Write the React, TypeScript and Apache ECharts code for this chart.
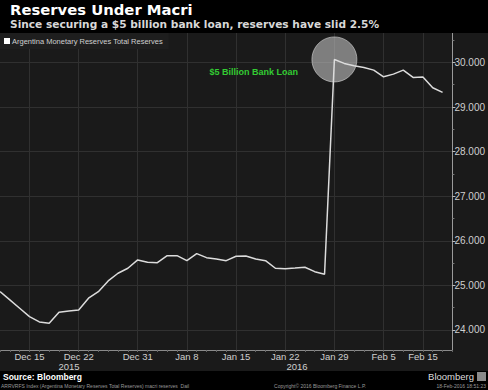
import React, { useEffect, useRef } from "react";
import * as echarts from "echarts";

const categories = [
  "Dec 10", "Dec 11", "Dec 14", "Dec 15", "Dec 16", "Dec 17", "Dec 18", "Dec 21", "Dec 22", "Dec 23", "Dec 24", "Dec 28", "Dec 29", "Dec 30", "Dec 31",
  "Jan 4", "Jan 5", "Jan 6", "Jan 7", "Jan 8", "Jan 11", "Jan 12", "Jan 13", "Jan 14", "Jan 15", "Jan 18", "Jan 19", "Jan 20", "Jan 21", "Jan 22", "Jan 25", "Jan 26", "Jan 27", "Jan 28", "Jan 29",
  "Feb 1", "Feb 2", "Feb 3", "Feb 4", "Feb 5", "Feb 10", "Feb 11", "Feb 12", "Feb 15", "Feb 16", "Feb 17", "Feb 18",
];

const reserves = [
  24859, 24673, 24487, 24299, 24180, 24151, 24397, 24427, 24449, 24711, 24859, 25099, 25271, 25384, 25570,
  25518, 25509, 25666, 25666, 25554, 25711, 25621, 25592, 25554, 25652, 25659, 25592, 25554, 25384, 25375, 25390, 25406, 25307, 25249, 30067,
  29978, 29924, 29888, 29827, 29677, 29738, 29827, 29664, 29671, 29431, 29328,
];

const labelDates = ["Dec 15", "Dec 22", "Dec 31", "Jan 8", "Jan 15", "Jan 22", "Jan 29", "Feb 5", "Feb 15"];
const yearLabels = ["2015", "2016"];
const majorTicks = [24000, 25000, 26000, 27000, 28000, 29000, 30000];
const minorTicks = [24500, 25500, 26500, 27500, 28500, 29500, 30500];
const highlightDate = "Jan 29";
const seriesName = "Argentina Monetary Reserves Total Reserves";

export default function App() {
  const ref = useRef<HTMLDivElement>(null);
  useEffect(() => {
    if (!ref.current) return;
    const chart = echarts.init(ref.current, null, { renderer: "svg" });
    const hi = categories.indexOf(highlightDate);
    const showLabel = (idx: number, val: string) => labelDates.includes(val);
    const font = "Liberation Sans";
    const headFont = "DejaVu Sans";
    chart.setOption({
      animation: false,
      backgroundColor: "#1a1a1a",
      grid: { left: 0, right: 33, top: 33, bottom: 40, containLabel: false },
      legend: {
        data: [{ name: seriesName, icon: "rect" }],
        left: 0,
        top: 33,
        itemWidth: 6,
        itemHeight: 6,
        backgroundColor: "#1e1e1e",
        padding: [4, 6, 4, 4],
        textStyle: { color: "#cfcfcf", fontSize: 7.5, fontFamily: font, padding: [0, 0, 0, -3] },
      },
      xAxis: {
        type: "category",
        boundaryGap: false,
        data: categories,
        axisLine: { lineStyle: { color: "#8a8a8a", width: 1 } },
        axisTick: { show: true, interval: 0, length: 2, lineStyle: { color: "#666" } },
        axisLabel: { interval: showLabel, color: "#cfcfcf", fontSize: 9.5, fontFamily: font, margin: 1, lineHeight: 10 },
        splitLine: { show: true, interval: showLabel, lineStyle: { color: "#303030", width: 1 } },
      },
      yAxis: [
        {
          type: "value",
          position: "right",
          min: 23550,
          max: 30660,
          axisLine: { show: true, lineStyle: { color: "#9a9a9a" } },
          axisTick: { show: true, customValues: majorTicks, length: 3, lineStyle: { color: "#bbb" } },
          axisLabel: {
            customValues: majorTicks,
            formatter: (v: number) => (v / 1000).toFixed(3),
            color: "#cfcfcf",
            fontSize: 10,
            fontFamily: font,
            margin: 2,
          },
          splitLine: { show: true, lineStyle: { color: "#303030", width: 1 } },
        },
        {
          type: "value",
          position: "right",
          min: 23550,
          max: 30660,
          axisLine: { show: false },
          axisTick: { show: true, customValues: minorTicks, length: 2, lineStyle: { color: "#777" } },
          axisLabel: { show: false },
          splitLine: { show: false },
        },
      ],
      series: [
        {
          type: "scatter",
          data: [[hi, reserves[hi]]],
          symbolSize: 45,
          silent: true,
          z: 1,
          itemStyle: { color: "rgba(200,200,200,0.72)", borderColor: "rgba(225,225,225,0.7)", borderWidth: 1 },
        },
        {
          name: seriesName,
          type: "line",
          data: reserves,
          symbol: "none",
          z: 3,
          itemStyle: { color: "#ffffff" },
          lineStyle: { color: "#dcdcdc", width: 1.5 },
        },
      ],
      graphic: [
        { type: "rect", shape: { x: 0, y: 0, width: 488, height: 33 }, style: { fill: "#000" }, z: 10 },
        { type: "rect", shape: { x: 0, y: 371, width: 488, height: 19 }, style: { fill: "#000" }, z: 10 },
        { type: "text", x: 10, y: 9.5, z: 11, style: { text: "Reserves Under Macri", fill: "#fff", font: `bold 14.8px ${headFont}`, verticalAlign: "middle" } },
        { type: "text", x: 10, y: 24, z: 11, style: { text: "Since securing a $5 billion bank loan, reserves have slid 2.5%", fill: "#d8d8d8", font: `bold 10.6px ${headFont}`, verticalAlign: "middle" } },
        { type: "text", x: 298, y: 71.5, z: 11, style: { text: "$5 Billion Bank Loan", fill: "#33cc33", font: `bold 9px ${font}`, align: "right", verticalAlign: "middle" } },
        { type: "text", x: 69, y: 366.5, z: 11, style: { text: yearLabels[0], fill: "#cfcfcf", font: `9.5px ${font}`, align: "center", verticalAlign: "middle", lineHeight: 9 } },
        { type: "text", x: 297, y: 366.5, z: 11, style: { text: yearLabels[1], fill: "#cfcfcf", font: `9.5px ${font}`, align: "center", verticalAlign: "middle", lineHeight: 9 } },
        { type: "text", x: 3, y: 376.5, z: 11, style: { text: "Source: Bloomberg", fill: "#fff", font: `bold 8.5px ${font}`, verticalAlign: "middle" } },
        { type: "text", x: 474, y: 376.5, z: 11, style: { text: "Bloomberg", fill: "#ddd", font: `9.5px ${font}`, align: "right", verticalAlign: "middle" } },
        { type: "rect", shape: { x: 477, y: 372, width: 9, height: 9 }, style: { fill: "#8a8a8a" }, z: 11 },
        { type: "text", x: 1, y: 386, z: 11, style: { text: "ARRVRFS Index (Argentina Monetary Reserves Total Reserves) macri reserves  Dail", fill: "#9a9a9a", font: `5px ${font}`, verticalAlign: "middle" } },
        { type: "text", x: 320, y: 386, z: 11, style: { text: "Copyright\u00a9 2016 Bloomberg Finance L.P.", fill: "#9a9a9a", font: `5px ${font}`, align: "center", verticalAlign: "middle" } },
        { type: "text", x: 486, y: 386, z: 11, style: { text: "18-Feb-2016 18:51:23", fill: "#9a9a9a", font: `5px ${font}`, align: "right", verticalAlign: "middle" } },
      ],
    });
    return () => chart.dispose();
  }, []);
  return <div ref={ref} style={{ position: "fixed", left: 0, top: 0, width: 488, height: 390 }} />;
}
